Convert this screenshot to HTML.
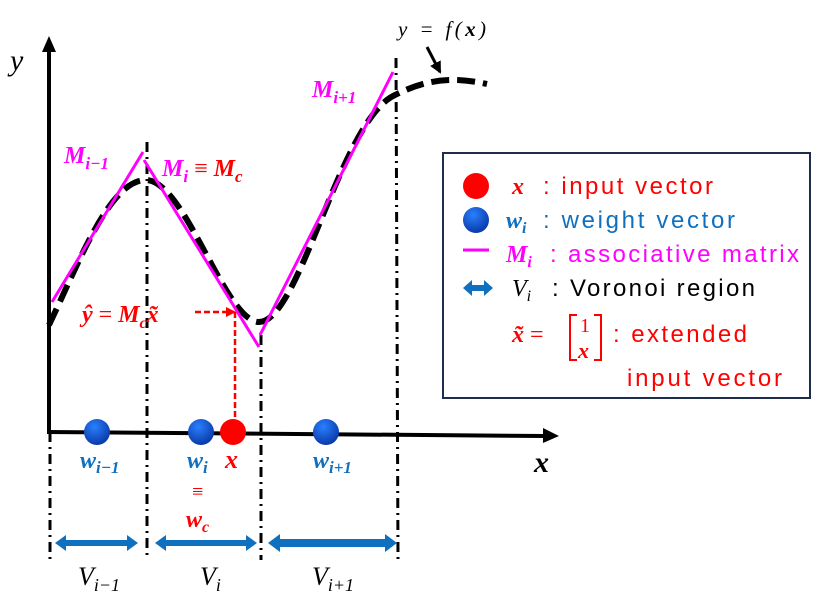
<!DOCTYPE html>
<html><head><meta charset="utf-8"><style>
html,body{margin:0;padding:0;background:#fff;}
svg{display:block;}
.m{font-family:"Liberation Serif",serif;font-style:italic;}
.s{font-family:"Liberation Sans","Noto Sans CJK JP",sans-serif;}
</style></head><body>
<svg width="823" height="599" viewBox="0 0 823 599">
<defs>
<marker id="ah" markerUnits="userSpaceOnUse" markerWidth="10" markerHeight="10" refX="8" refY="5" orient="auto"><path d="M0,0 L10,5 L0,10 z" fill="#f00"/></marker>
<marker id="bh" markerUnits="userSpaceOnUse" markerWidth="12" markerHeight="12" refX="10" refY="6" orient="auto"><path d="M0,0 L12,6 L0,12 z" fill="#000"/></marker>
<radialGradient id="bg" cx="40%" cy="30%" r="70%"><stop offset="0" stop-color="#2a7fff"/><stop offset="1" stop-color="#0a3aa8"/></radialGradient>
</defs>
<g stroke="#000" stroke-width="3" stroke-dasharray="10,5,2,5" fill="none">
<line x1="50" y1="432" x2="50" y2="560"/>
<line x1="147" y1="142" x2="147" y2="560"/>
<line x1="261" y1="335" x2="261" y2="560"/>
<line x1="396" y1="58" x2="398" y2="560"/>
</g>
<line x1="49" y1="434" x2="49" y2="50" stroke="#000" stroke-width="4"/>
<path d="M42,52 L49,36 L56,52 z" fill="#000"/>
<line x1="47" y1="432" x2="545" y2="436" stroke="#000" stroke-width="4"/>
<path d="M543,428 L559,436 L543,443 z" fill="#000"/>
<text x="10" y="70" class="m" font-size="30">y</text>
<text x="534" y="472" class="m" font-size="30" font-weight="bold">x</text>
<path d="M49,325 C80,260 110,180 146,180 C185,180 225,322 259,322 C300,322 340,120 395,95 C425,80 450,76 487,84" fill="none" stroke="#000" stroke-width="6" stroke-dasharray="18,8"/>
<g stroke="#f0f" stroke-width="3">
<line x1="52" y1="302" x2="143" y2="152"/>
<line x1="144" y1="160" x2="259" y2="347"/>
<line x1="260" y1="335" x2="393" y2="72"/>
</g>
<text x="64" y="163" class="m" font-size="24" font-weight="bold" fill="#f0f">M<tspan font-size="17" dy="6">i−1</tspan></text>
<text x="162" y="176" class="m" font-size="24" font-weight="bold" fill="#f0f">M<tspan font-size="17" dy="6">i</tspan><tspan dy="-6" fill="#f00" font-style="normal" font-weight="normal"> ≡ </tspan><tspan fill="#f00">M</tspan><tspan fill="#f00" font-size="17" dy="6">c</tspan></text>
<text x="312" y="97" class="m" font-size="24" font-weight="bold" fill="#f0f">M<tspan font-size="17" dy="6">i+1</tspan></text>
<text x="82" y="322" class="m" font-size="24" font-weight="bold" fill="#f00">ŷ <tspan font-style="normal" font-weight="normal">=</tspan> M<tspan font-size="16" dy="6">c</tspan><tspan dy="-6">x̃</tspan></text>
<line x1="195" y1="312" x2="234" y2="312" stroke="#f00" stroke-width="2.5" stroke-dasharray="6,3" marker-end="url(#ah)"/>
<line x1="235" y1="312" x2="235" y2="420" stroke="#f00" stroke-width="2.5" stroke-dasharray="6,3"/>
<text x="398" y="36" class="m" font-size="21" textLength="88">y = f(<tspan font-weight="bold">x</tspan>)</text>
<line x1="427" y1="47" x2="440" y2="72" stroke="#000" stroke-width="3" marker-end="url(#bh)"/>
<circle cx="97" cy="432" r="13" fill="url(#bg)"/>
<circle cx="201" cy="432" r="13" fill="url(#bg)"/>
<circle cx="326" cy="432" r="13" fill="url(#bg)"/>
<circle cx="233" cy="432" r="13" fill="#f00"/>
<text x="80" y="468" class="m" font-size="24" font-weight="bold" fill="#1070c0">w<tspan font-size="17" dy="5">i−1</tspan></text>
<text x="187" y="468" class="m" font-size="24" font-weight="bold" fill="#1070c0">w<tspan font-size="17" dy="5">i</tspan></text>
<text x="225" y="468" class="m" font-size="26" font-weight="bold" fill="#f00">x</text>
<text x="313" y="468" class="m" font-size="24" font-weight="bold" fill="#1070c0">w<tspan font-size="17" dy="5">i+1</tspan></text>
<text x="192" y="498" font-family="Liberation Serif,serif" font-size="20" fill="#f00">≡</text>
<text x="186" y="527" class="m" font-size="24" font-weight="bold" fill="#f00">w<tspan font-size="16" dy="5">c</tspan></text>
<g fill="#1070c0">
<path d="M55,543 L66,535 L66,540 L127,540 L127,535 L138,543 L127,551 L127,546 L66,546 L66,551 z"/>
<path d="M155,543 L166,535 L166,540 L246,540 L246,535 L257,543 L246,551 L246,546 L166,546 L166,551 z"/>
<path d="M268,543 L280,534 L280,539 L385,539 L385,534 L397,543 L385,552 L385,547 L280,547 L280,552 z"/>
</g>
<text x="78" y="585" class="m" font-size="26">V<tspan font-size="18" dy="6">i−1</tspan></text>
<text x="200" y="585" class="m" font-size="26">V<tspan font-size="18" dy="6">i</tspan></text>
<text x="312" y="585" class="m" font-size="26">V<tspan font-size="18" dy="6">i+1</tspan></text>
<g>
<rect x="443" y="153" width="367" height="245" fill="#fff" stroke="#1f2d4d" stroke-width="2"/>
<circle cx="476" cy="186" r="13" fill="#f00"/>
<text x="512" y="194" class="m" font-size="24" font-weight="bold" fill="#f00">x</text>
<text x="543" y="194" class="s" font-size="24" fill="#f00" textLength="170">: input vector</text>
<circle cx="476" cy="220" r="13" fill="url(#bg)"/>
<text x="506" y="228" class="m" font-size="24" font-weight="bold" fill="#1070c0">w<tspan font-size="16" dy="5">i</tspan></text>
<text x="543" y="228" class="s" font-size="24" fill="#1070c0" textLength="192">: weight vector</text>
<line x1="463" y1="250" x2="489" y2="250" stroke="#f0f" stroke-width="3"/>
<text x="506" y="262" class="m" font-size="24" font-weight="bold" fill="#f0f">M<tspan font-size="16" dy="5">i</tspan></text>
<text x="550" y="262" class="s" font-size="24" fill="#f0f" textLength="249">: associative matrix</text>
<path d="M463,288 L472,280 L472,285 L484,285 L484,280 L493,288 L484,296 L484,291 L472,291 L472,296 z" fill="#1070c0"/>
<text x="512" y="296" class="m" font-size="24">V<tspan font-size="16" dy="5">i</tspan></text>
<text x="552" y="296" class="s" font-size="24" textLength="203">: Voronoi region</text>
<text x="512" y="342" class="m" font-size="24" font-weight="bold" fill="#f00">x̃ <tspan font-style="normal" font-weight="normal">=</tspan></text>
<path d="M577,315 L570,315 L570,360 L577,360 M594,315 L601,315 L601,360 L594,360" fill="none" stroke="#f00" stroke-width="2"/>
<text x="580" y="332" font-family="Liberation Serif,serif" font-size="20" fill="#f00">1</text>
<text x="578" y="358" class="m" font-size="22" font-weight="bold" fill="#f00">x</text>
<text x="613" y="342" class="s" font-size="24" fill="#f00" textLength="134">: extended</text>
<text x="627" y="386" class="s" font-size="24" fill="#f00" textLength="155">input vector</text>
</g>
</svg>
</body></html>
